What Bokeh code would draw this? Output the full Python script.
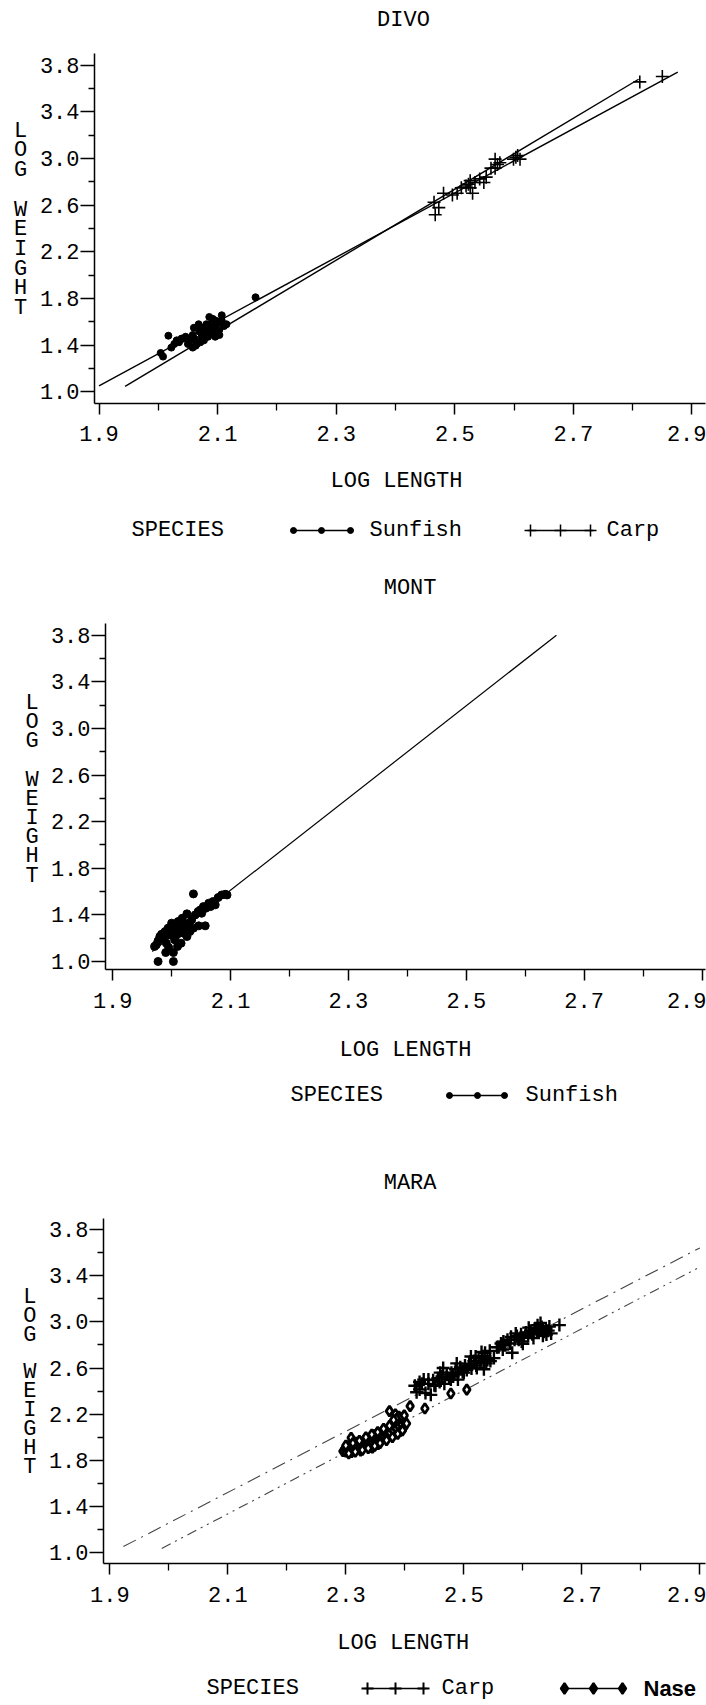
from bokeh.plotting import figure
from bokeh.models import Range1d, FixedTicker, PrintfTickFormatter
from bokeh.layouts import column, row
from bokeh.embed import file_html
from bokeh.resources import INLINE
from bokeh.core.properties import value

FONT = "Liberation Mono"
FS = "22px"

# ---------------- data ----------------
x_major_ticks = [1.9, 2.1, 2.3, 2.5, 2.7, 2.9]
x_minor_ticks = [2.0, 2.2, 2.4, 2.6, 2.8]
y_major_ticks = [1.0, 1.4, 1.8, 2.2, 2.6, 3.0, 3.4, 3.8]
y_minor_ticks = [1.2, 1.6, 2.0, 2.4, 2.8, 3.2, 3.6]

titles = ["DIVO", "MONT", "MARA"]
x_title = "LOG LENGTH"
y_title_letters = ["L", "O", "G", "W", "E", "I", "G", "H", "T"]
y_title_rows = [0, 1, 2, 4, 5, 6, 7, 8, 9]

# DIVO
divo_sunfish_x = [2.004, 2.008, 2.017, 2.022, 2.027, 2.035, 2.042, 2.046, 2.054, 2.058,
                  2.061, 2.065, 2.069, 2.073, 2.077, 2.081, 2.084, 2.088, 2.092, 2.096,
                  2.100, 2.103, 2.107, 2.111, 2.115, 2.086, 2.092, 2.107, 2.058, 2.063,
                  2.073, 2.081, 2.068, 2.077, 2.084, 2.096, 2.103, 2.050, 2.039, 2.031,
                  2.060, 2.071, 2.090, 2.097, 2.105, 2.164]
divo_sunfish_y = [1.332, 1.301, 1.480, 1.378, 1.409, 1.424, 1.455, 1.471, 1.440, 1.486,
                  1.455, 1.409, 1.517, 1.471, 1.440, 1.501, 1.548, 1.578, 1.501, 1.548,
                  1.594, 1.532, 1.609, 1.563, 1.578, 1.640, 1.624, 1.655, 1.378, 1.394,
                  1.548, 1.578, 1.578, 1.486, 1.471, 1.471, 1.486, 1.409, 1.455, 1.440,
                  1.548, 1.424, 1.517, 1.609, 1.594, 1.809]
divo_carp_x = [2.465, 2.473, 2.467, 2.481, 2.496, 2.504, 2.511, 2.519, 2.526, 2.530,
               2.534, 2.549, 2.553, 2.561, 2.568, 2.572, 2.576, 2.568, 2.599, 2.603,
               2.606, 2.610, 2.526, 2.523, 2.542, 2.812, 2.850]
divo_carp_y = [2.624, 2.578, 2.516, 2.701, 2.686, 2.701, 2.747, 2.763, 2.809, 2.701,
               2.793, 2.793, 2.839, 2.916, 2.993, 2.947, 2.962, 2.916, 2.993, 3.009,
               3.024, 2.993, 2.747, 2.778, 2.824, 3.655, 3.701]
divo_sunfish_line_x = [1.900, 2.876]
divo_sunfish_line_y = [1.050, 3.739]
divo_carp_line_x = [1.944, 2.810]
divo_carp_line_y = [1.045, 3.678]

# MONT
mont_sunfish_x = [1.977, 2.003, 1.990, 2.003, 2.037, 2.026, 2.046, 2.057, 1.974, 1.977,
                  1.980, 1.983, 1.986, 1.989, 1.991, 1.994, 1.997, 2.000, 2.003, 2.005,
                  2.006, 2.009, 2.011, 2.013, 2.016, 2.017, 2.020, 2.023, 2.026, 2.029,
                  2.031, 2.034, 2.037, 2.040, 2.045, 2.049, 2.051, 2.054, 2.058, 2.063,
                  2.066, 2.070, 2.074, 2.079, 2.085, 2.091, 2.094, 1.995, 2.010, 2.018,
                  1.971]
mont_sunfish_y = [1.000, 1.000, 1.077, 1.077, 1.580, 1.409, 1.306, 1.306, 1.143, 1.177,
                  1.214, 1.234, 1.200, 1.257, 1.157, 1.286, 1.229, 1.329, 1.257, 1.186,
                  1.300, 1.229, 1.343, 1.271, 1.157, 1.314, 1.243, 1.286, 1.214, 1.329,
                  1.257, 1.357, 1.286, 1.400, 1.429, 1.443, 1.414, 1.471, 1.457, 1.500,
                  1.471, 1.514, 1.486, 1.549, 1.571, 1.577, 1.571, 1.120, 1.129, 1.371,
                  1.129]
mont_sunfish_line_x = [1.967, 2.653]
mont_sunfish_line_y = [1.085, 3.800]

# MARA
mara_carp_x = [2.417, 2.425, 2.429, 2.435, 2.440, 2.444, 2.448, 2.452, 2.456, 2.459,
               2.463, 2.467, 2.471, 2.475, 2.479, 2.482, 2.486, 2.490, 2.494, 2.498,
               2.502, 2.505, 2.509, 2.513, 2.517, 2.521, 2.525, 2.528, 2.532, 2.536,
               2.540, 2.544, 2.534, 2.551, 2.559, 2.563, 2.567, 2.570, 2.574, 2.578,
               2.582, 2.586, 2.590, 2.593, 2.597, 2.601, 2.605, 2.609, 2.613, 2.616,
               2.620, 2.624, 2.628, 2.632, 2.636, 2.639, 2.643, 2.662, 2.425, 2.460,
               2.490, 2.520, 2.545, 2.580, 2.600, 2.625, 2.640, 2.440,
               2.420, 2.432, 2.450, 2.465, 2.478, 2.488, 2.500, 2.512, 2.522, 2.530,
               2.538, 2.556, 2.566, 2.588, 2.598, 2.610, 2.618, 2.630, 2.634, 2.645,
               2.648]
mara_carp_y = [2.447, 2.415, 2.463, 2.384, 2.463, 2.368, 2.495, 2.447, 2.511, 2.479,
               2.527, 2.463, 2.543, 2.511, 2.559, 2.527, 2.590, 2.543, 2.606, 2.565,
               2.622, 2.584, 2.638, 2.597, 2.660, 2.622, 2.686, 2.648, 2.702, 2.733,
               2.670, 2.749, 2.590, 2.686, 2.781, 2.813, 2.829, 2.797, 2.845, 2.813,
               2.733, 2.845, 2.877, 2.845, 2.893, 2.861, 2.908, 2.877, 2.924, 2.893,
               2.940, 2.908, 2.924, 2.956, 2.915, 2.940, 2.924, 2.972, 2.480, 2.560,
               2.500, 2.700, 2.660, 2.870, 2.810, 2.970, 2.890, 2.500,
               2.390, 2.500, 2.450, 2.600, 2.500, 2.640, 2.560, 2.700, 2.600, 2.740,
               2.640, 2.780, 2.760, 2.900, 2.830, 2.950, 2.860, 2.990, 2.880, 2.960,
               2.900]
mara_nase_x = [2.295, 2.298, 2.300, 2.303, 2.306, 2.308, 2.310, 2.313, 2.315, 2.318,
               2.320, 2.322, 2.325, 2.327, 2.330, 2.332, 2.335, 2.337, 2.340, 2.342,
               2.345, 2.347, 2.350, 2.352, 2.355, 2.357, 2.360, 2.362, 2.365, 2.367,
               2.370, 2.372, 2.375, 2.377, 2.380, 2.382, 2.385, 2.388, 2.390, 2.392,
               2.395, 2.397, 2.400, 2.384, 2.390, 2.398, 2.393, 2.309, 2.374, 2.409,
               2.434, 2.478, 2.505, 2.310, 2.325, 2.340, 2.355, 2.318, 2.333, 2.348,
               2.363, 2.378, 2.302, 2.345, 2.368,
               2.300, 2.305, 2.312, 2.316, 2.323, 2.328, 2.334, 2.338, 2.344, 2.349,
               2.354, 2.358, 2.364, 2.369, 2.374, 2.379, 2.384, 2.388, 2.392, 2.396,
               2.399, 2.403, 2.386, 2.381]
mara_nase_y = [1.880, 1.900, 1.875, 1.895, 1.885, 1.910, 1.890, 1.920, 1.900, 1.930,
               1.905, 1.940, 1.915, 1.950, 1.925, 1.960, 1.935, 1.975, 1.945, 1.985,
               1.955, 1.995, 1.965, 2.010, 1.975, 2.020, 1.990, 2.035, 2.005, 2.050,
               2.020, 2.065, 2.040, 2.085, 2.060, 2.100, 2.080, 2.120, 2.095, 2.140,
               2.110, 2.160, 2.130, 2.200, 2.180, 2.080, 2.054, 1.997, 2.227, 2.270,
               2.250, 2.380, 2.413, 1.870, 1.885, 1.915, 1.940, 1.955, 1.985, 2.020,
               2.060, 2.110, 1.925, 1.910, 1.990,
               1.930, 1.860, 1.950, 1.875, 1.970, 1.890, 2.000, 1.905, 2.025, 1.925,
               2.045, 1.950, 2.075, 1.975, 2.100, 2.000, 2.135, 2.030, 2.170, 2.060,
               2.190, 2.120, 2.160, 2.150]
mara_carp_line_x = [1.923, 2.900]
mara_carp_line_y = [1.054, 3.640]
mara_nase_line_x = [1.988, 2.900]
mara_nase_line_y = [1.038, 3.475]


# ---------------- helpers ----------------
def canvas_fig(W, H):
    p = figure(width=W, height=H, output_backend="svg", toolbar_location=None,
               x_range=Range1d(0, W), y_range=Range1d(H, 0), min_border=0,
               x_axis_location=None, y_axis_location=None)
    p.outline_line_color = None
    p.grid.visible = False
    return p


def put_text(p, xs, ys, texts, align="center", font=FONT, style="normal"):
    p.text(x=xs, y=ys, text=texts, text_font=value(font), text_font_size=value(FS),
           text_font_style=style, text_baseline="middle", text_align=align,
           text_color="black")


def plot_fig(W, H, fl, fr, ft, fb, xr, yr, standoff):
    p = figure(width=W, height=H, output_backend="svg", toolbar_location=None,
               x_range=Range1d(*xr), y_range=Range1d(*yr),
               min_border_left=fl, min_border_right=W - fr,
               min_border_top=ft, min_border_bottom=H - fb)
    p.outline_line_color = None
    p.grid.visible = False
    for ax in p.xaxis:
        ax.ticker = FixedTicker(ticks=x_major_ticks, minor_ticks=x_minor_ticks)
        ax.formatter = PrintfTickFormatter(format="%.1f")
        ax.major_tick_out = 11
        ax.major_tick_in = 0
        ax.minor_tick_out = 7
        ax.minor_tick_in = 0
        ax.major_label_standoff = standoff
    for ax in p.yaxis:
        ax.ticker = FixedTicker(ticks=y_major_ticks, minor_ticks=y_minor_ticks)
        ax.formatter = PrintfTickFormatter(format="%.1f")
        ax.major_tick_out = 14
        ax.major_tick_in = 0
        ax.minor_tick_out = 6
        ax.minor_tick_in = 0
        ax.major_label_standoff = 1
    for ax in p.axis:
        ax.axis_line_color = "black"
        ax.axis_line_width = 1.5
        ax.major_tick_line_color = "black"
        ax.minor_tick_line_color = "black"
        ax.major_tick_line_width = 1.5
        ax.minor_tick_line_width = 1.3
        ax.major_label_text_font = FONT
        ax.major_label_text_font_size = FS
        ax.major_label_text_color = "black"
    return p


def ylab_fig(W, H, xc, y0, step):
    p = canvas_fig(W, H)
    put_text(p, [xc] * len(y_title_letters), [y0 + r * step for r in y_title_rows],
             y_title_letters)
    return p


def legend_symbol(p, xs, y, marker, size, lw, fill):
    p.line([xs[0] - 3, xs[-1] + 3], [y, y], line_color="black", line_width=1.3)
    p.scatter(xs, [y] * len(xs), marker=marker, size=size, line_color="black",
              line_width=lw, fill_color=fill)


# ---------------- Panel 1: DIVO ----------------
t1 = canvas_fig(706, 45)
put_text(t1, [403], [20], [titles[0]])

y1 = ylab_fig(34, 415, 20, 92, 23.4)
p1 = plot_fig(672, 415, 60, 671, 8, 358, (1.8924, 2.9228), (0.8989, 3.8986), 11)
p1.line(divo_sunfish_line_x, divo_sunfish_line_y, line_color="black", line_width=1.4)
p1.line(divo_carp_line_x, divo_carp_line_y, line_color="black", line_width=1.4)
p1.scatter(divo_sunfish_x, divo_sunfish_y, marker="circle", size=7, color="black")
p1.scatter(divo_carp_x, divo_carp_y, marker="cross", size=13, line_color="black", line_width=1.6)

b1 = canvas_fig(706, 100)
put_text(b1, [396], [21], [x_title])
put_text(b1, [131, 369, 606], [70, 70, 70], ["SPECIES", "Sunfish", "Carp"], align="left")
legend_symbol(b1, [293, 321, 350], 70, "circle", 6, 1, "black")
legend_symbol(b1, [530, 560, 590], 70, "cross", 12, 1.5, None)

# ---------------- Panel 2: MONT ----------------
t2 = canvas_fig(706, 50)
put_text(t2, [409.6], [28], [titles[1]])

y2 = ylab_fig(45, 420, 31.7, 97, 23.3)
p2 = plot_fig(661, 420, 60, 660, 13, 359, (1.8878, 2.9059), (0.9313, 3.9004), 12)
p2.line(mont_sunfish_line_x, mont_sunfish_line_y, line_color="black", line_width=1.2)
p2.scatter(mont_sunfish_x, mont_sunfish_y, marker="circle", size=8, color="black")

b2 = canvas_fig(706, 90)
put_text(b2, [405], [20], [x_title])
put_text(b2, [290, 525], [65, 65], ["SPECIES", "Sunfish"], align="left")
legend_symbol(b2, [449, 477, 504], 65, "circle", 6, 1, "black")

# ---------------- Panel 3: MARA ----------------
t3 = canvas_fig(706, 85)
put_text(t3, [409.6], [63.4], [titles[2]])

y3 = ylab_fig(45, 420, 29.4, 96, 23.0)
p3 = plot_fig(661, 420, 57, 660, 13, 358, (1.8893, 2.9096), (0.9074, 3.8950), 12)
p3.line(mara_carp_line_x, mara_carp_line_y, line_color="#444444", line_width=1.1,
        line_dash="14 6 2 6")
p3.line(mara_nase_line_x, mara_nase_line_y, line_color="#444444", line_width=1.1,
        line_dash="10 5 2 5 2 5")
p3.scatter(mara_nase_x, mara_nase_y, marker="diamond", size=10, line_color="black",
           line_width=2.8, fill_color="white")
p3.scatter(mara_carp_x, mara_carp_y, marker="cross", size=13, line_color="black", line_width=2.4)

b3 = canvas_fig(706, 80)
put_text(b3, [402.8], [18], [x_title])
put_text(b3, [206, 441], [63, 63], ["SPECIES", "Carp"], align="left")
put_text(b3, [643], [63], ["Nase"], align="left", font="Liberation Sans", style="bold")
legend_symbol(b3, [367, 395, 423], 63, "cross", 12, 2, None)
legend_symbol(b3, [564, 593, 622], 63, "diamond", 11, 2.2, "black")

page = column(
    t1, row(y1, p1, spacing=0), b1,
    t2, row(y2, p2, spacing=0), b2,
    t3, row(y3, p3, spacing=0), b3,
    spacing=0,
)
open("out.html", "w").write(file_html(page, INLINE))
